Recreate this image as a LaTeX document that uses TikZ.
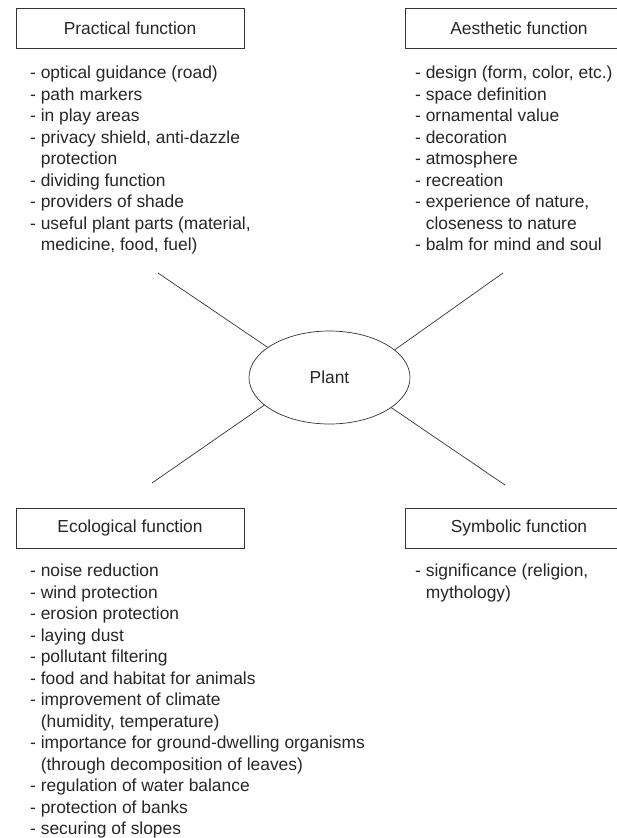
\documentclass[tikz,border=0pt]{standalone}
\usepackage{fontspec}
\setmainfont{Liberation Sans}
\usetikzlibrary{shapes.geometric}

\tikzset{
  x=1bp, y=-1bp,
  every node/.style={font=\fontsize{17.4bp}{21.5bp}\selectfont, text=black!85},
  funcbox/.style={draw=black!80, line width=0.7bp, minimum width=228bp, minimum height=40bp, inner sep=0pt},
  itemlist/.style={anchor=north west, align=left, inner sep=0pt},
  centre/.style={draw=black!80, line width=0.7bp, ellipse, minimum width=161bp, minimum height=93bp, inner sep=0pt},
  spoke/.style={draw=black!80, line width=0.7bp}
}
\newcommand{\cont}{\phantom{- }}

\begin{document}
\begin{tikzpicture}
\useasboundingbox (0,0) rectangle (617,838);
\clip (0,0) rectangle (617,838);

% headings
\node[funcbox] (practical) at (130,28) {Practical function};
\node[funcbox] (aesthetic) at (519,28) {Aesthetic function};
\node[funcbox] (ecological) at (130,528) {Ecological function};
\node[funcbox] (symbolic) at (519,528) {Symbolic function};

% item lists
\node[itemlist] (practicallist) at (30,66) {%
- optical guidance (road)\\
- path markers\\
- in play areas\\
- privacy shield, anti-dazzle\\
\cont protection\\
- dividing function\\
- providers of shade\\
- useful plant parts (material,\\
\cont medicine, food, fuel)};

\node[itemlist] (aestheticlist) at (415,66) {%
- design (form, color, etc.)\\
- space definition\\
- ornamental value\\
- decoration\\
- atmosphere\\
- recreation\\
- experience of nature,\\
\cont closeness to nature\\
- balm for mind and soul};

\node[itemlist] (ecologicallist) at (30,564) {%
- noise reduction\\
- wind protection\\
- erosion protection\\
- laying dust\\
- pollutant filtering\\
- food and habitat for animals\\
- improvement of climate\\
\cont (humidity, temperature)\\
- importance for ground-dwelling organisms\\
\cont (through decomposition of leaves)\\
- regulation of water balance\\
- protection of banks\\
- securing of slopes};

\node[itemlist] (symboliclist) at (415,564) {%
- significance (religion,\\
\cont mythology)};

% centre and spokes
\node[centre] (plant) at (329.5,377.5) {Plant};

\coordinate (pend) at (158,273);
\coordinate (aend) at (503,273);
\coordinate (eend) at (152,483);
\coordinate (send) at (505,485);

\draw[spoke] (pend) -- (plant.154.7);
\draw[spoke] (aend) -- (plant.23.5);
\draw[spoke] (eend) -- (plant.203.1);
\draw[spoke] (send) -- (plant.334.7);
\end{tikzpicture}
\end{document}
